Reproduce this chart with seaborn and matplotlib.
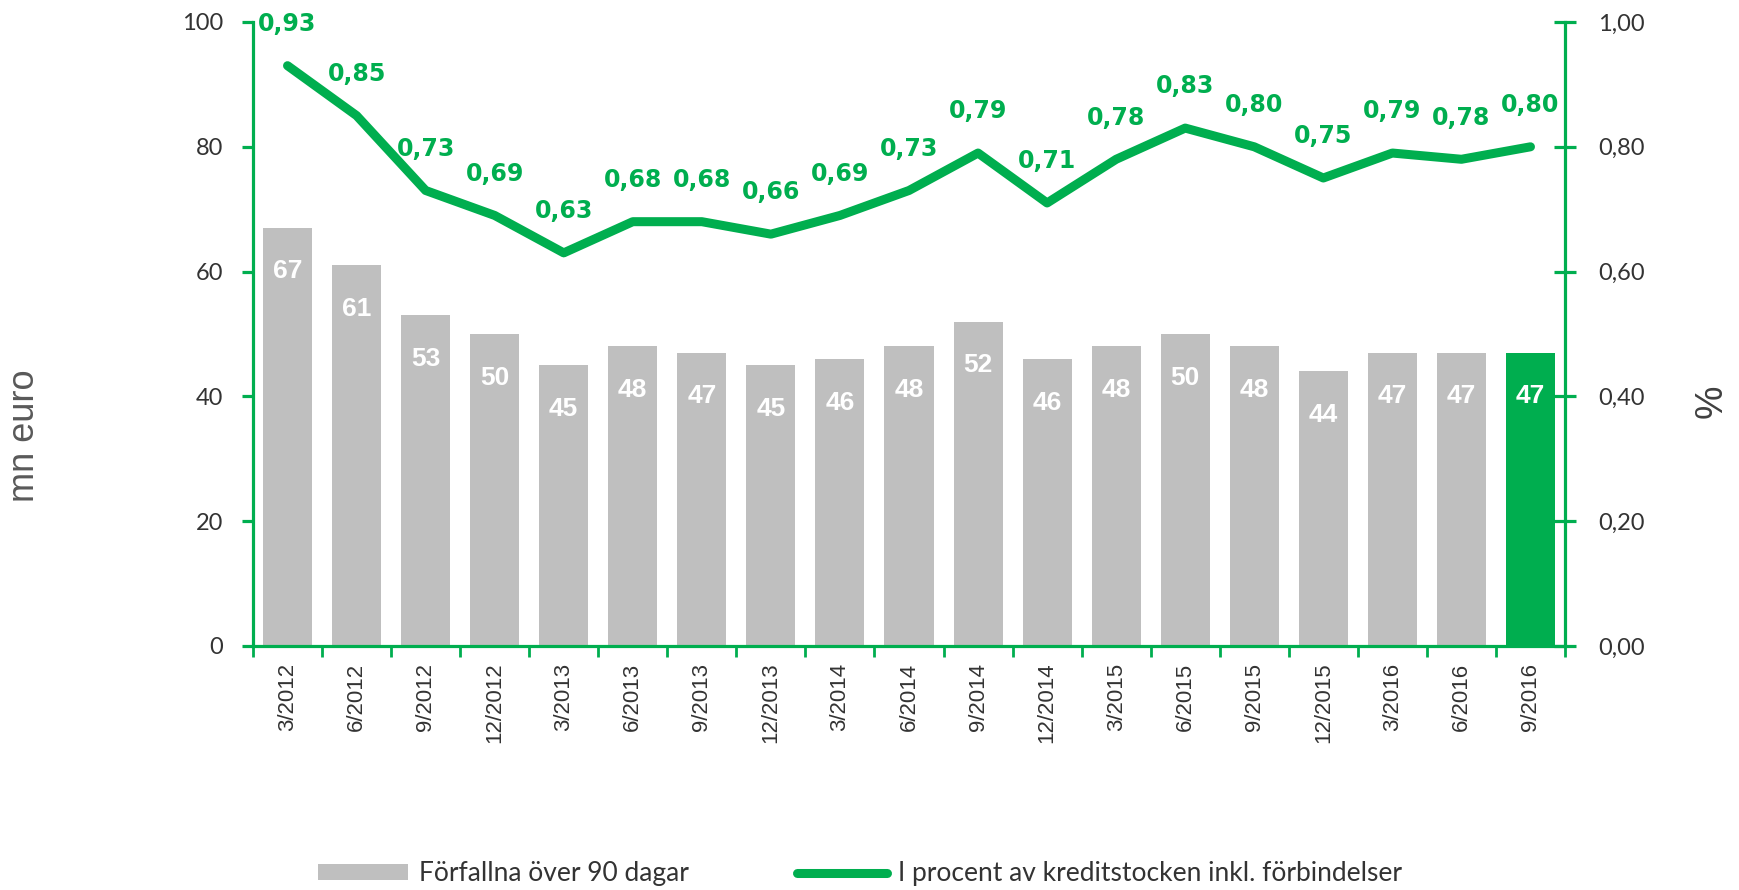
import numpy as np
import pandas as pd
import matplotlib
matplotlib.use("Agg")
import matplotlib.pyplot as plt
import seaborn as sns
from matplotlib.patches import Patch
from matplotlib.lines import Line2D
from matplotlib.ticker import FuncFormatter

categories = ["3/2012", "6/2012", "9/2012", "12/2012", "3/2013", "6/2013", "9/2013",
              "12/2013", "3/2014", "6/2014", "9/2014", "12/2014", "3/2015", "6/2015",
              "9/2015", "12/2015", "3/2016", "6/2016", "9/2016"]
overdue = [67, 61, 53, 50, 45, 48, 47, 45, 46, 48, 52, 46, 48, 50, 48, 44, 47, 47, 47]
share_pct = [0.93, 0.85, 0.73, 0.69, 0.63, 0.68, 0.68, 0.66, 0.69, 0.73, 0.79, 0.71,
             0.78, 0.83, 0.80, 0.75, 0.79, 0.78, 0.80]
left_ticks = [0, 20, 40, 60, 80, 100]
right_ticks = [0.0, 0.2, 0.4, 0.6, 0.8, 1.0]
bar_legend = "Förfallna över 90 dagar"
line_legend = "I procent av kreditstocken inkl. förbindelser"
left_title = "mn euro"
right_title = "%"

GREEN = "#00AE4F"
GRAY = "#BFBFBF"
TEXT = "#333333"

sns.set_style("white")
plt.rcParams["font.family"] = ["Lato", "DejaVu Sans"]

fig = plt.figure(figsize=(17.4, 8.9), dpi=100)
ax = fig.add_axes([253 / 1740, 1 - 646 / 890, 1312 / 1740, 624 / 890])

df = pd.DataFrame({"cat": categories, "val": overdue})
colors = [GRAY] * (len(categories) - 1) + [GREEN]
sns.barplot(data=df, x="cat", y="val", hue="cat", palette=colors, legend=False,
            width=0.71, saturation=1, linewidth=0, ax=ax)

for cont in ax.containers:
    ax.bar_label(cont, labels=[f"{v:.0f}" for v in cont.datavalues], padding=-40,
                 color="white", fontweight="bold", fontsize=19,
                 family=["Liberation Sans Narrow", "Liberation Sans"])

ax.set_ylim(0, 100)
ax.set_yticks(left_ticks)
ax.set_xlim(-0.5, len(categories) - 0.5)
ax.set_xlabel("")
ax.set_ylabel("")

ax2 = ax.twinx()
sns.lineplot(x=np.arange(len(categories)), y=share_pct, ax=ax2, color=GREEN,
             linewidth=6.5, solid_capstyle="round", solid_joinstyle="round")
for i, v in enumerate(share_pct):
    ax2.annotate(f"{v:.2f}".replace(".", ","), (i, v), xytext=(0, 30),
                 textcoords="offset points", ha="center", va="center",
                 color=GREEN, fontweight="bold", fontsize=17, family="DejaVu Sans")
ax2.set_ylim(0, 1)
ax2.set_yticks(right_ticks)
ax2.yaxis.set_major_formatter(FuncFormatter(lambda v, p: f"{v:.2f}".replace(".", ",")))
ax2.set_xlim(-0.5, len(categories) - 0.5)
ax2.set_ylabel("")
ax2.set_xlabel("")

# spines
for s in ["top", "right"]:
    ax.spines[s].set_visible(False)
for s in ["left", "bottom"]:
    ax.spines[s].set_color(GREEN)
    ax.spines[s].set_linewidth(2.3)
for s in ["top", "left", "bottom"]:
    ax2.spines[s].set_visible(False)
ax2.spines["right"].set_color(GREEN)
ax2.spines["right"].set_linewidth(2.3)

# ticks
ax.tick_params(axis="y", direction="out", length=8, width=2.3, color=GREEN, pad=13.5,
               labelsize=17, labelcolor=TEXT, left=True)
ax.tick_params(axis="x", which="major", length=0, pad=12, labelsize=16,
               labelrotation=90, labelcolor=TEXT, bottom=True)
ax.set_xticks(np.arange(-0.5, len(categories), 1), minor=True)
ax.tick_params(axis="x", which="minor", direction="out", length=8, width=2,
               color=GREEN, bottom=True)
for lbl in ax.get_xticklabels():
    lbl.set_family("Liberation Sans")
ax2.tick_params(axis="y", direction="inout", length=16, width=2.3, color=GREEN, pad=16,
                labelsize=17, labelcolor=TEXT, right=True)

fig.text(25 / 1740, 1 - 436 / 890, left_title, rotation=90, fontsize=26,
         color="#595959", ha="center", va="center", family="Liberation Sans")
fig.text(1712 / 1740, 1 - 401 / 890, right_title, rotation=90, fontsize=27,
         color="#404040", ha="center", va="center", family="Liberation Sans")

handles = [Patch(facecolor=GRAY, edgecolor="none"),
           Line2D([0], [0], color=GREEN, lw=6.5, solid_capstyle="round")]
fig.legend(handles, [bar_legend, line_legend], loc="center left",
           bbox_to_anchor=(318 / 1740, 1 - 874 / 890), ncol=2, frameon=False,
           fontsize=19, handlelength=3.4, handleheight=0.55, handletextpad=0.42,
           columnspacing=4.1, borderpad=0, borderaxespad=0, labelcolor=TEXT)

fig.savefig("out.png", dpi=100)
